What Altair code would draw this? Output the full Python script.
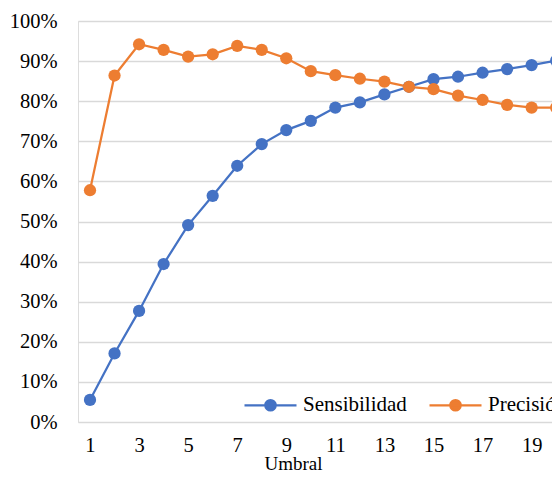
import altair as alt
import pandas as pd

umbral = list(range(1, 21))
sensibilidad = [5.5, 17.1, 27.7, 39.4, 49.1, 56.4, 63.9, 69.3, 72.8, 75.1,
                78.4, 79.7, 81.7, 83.6, 85.5, 86.1, 87.1, 88.0, 89.0, 90.1]
precision = [57.8, 86.4, 94.2, 92.8, 91.1, 91.7, 93.8, 92.8, 90.7, 87.5,
             86.5, 85.6, 84.9, 83.6, 83.0, 81.4, 80.3, 79.1, 78.4, 78.4]
series_names = ["Sensibilidad", "Precisión"]
series_colors = ["#4472C4", "#ED7D31"]
x_ticks = [1, 3, 5, 7, 9, 11, 13, 15, 17, 19]

rows = []
for i, u in enumerate(umbral):
    rows.append({"Umbral": u, "Serie": series_names[0], "Valor": sensibilidad[i] / 100, "ord": 0})
for i, u in enumerate(umbral):
    rows.append({"Umbral": u, "Serie": series_names[1], "Valor": precision[i] / 100, "ord": 1})
df = pd.DataFrame(rows)

FONT = "Liberation Serif"
legend_symbol = ("M-1,0L1,0M-0.2,0A0.2,0.2,0,1,1,0.2,0A0.2,0.2,0,1,1,-0.2,0Z")

x = alt.X("Umbral:Q",
          scale=alt.Scale(domain=[0.511, 19.83], nice=False, zero=False),
          axis=alt.Axis(values=x_ticks, format="d", grid=False, domain=False, ticks=False,
                        labelFont=FONT, labelFontSize=20.5, labelColor="#000000",
                        labelPadding=13, labelFlush=False,
                        title="Umbral", titleFont=FONT, titleFontSize=19,
                        titleFontWeight="normal", titleColor="#000000",
                        titleX=215, titleY=47, titleAlign="center",
                        titleBaseline="alphabetic"))
y = alt.Y("Valor:Q",
          scale=alt.Scale(domain=[0, 1], nice=False),
          axis=alt.Axis(values=[i / 10 for i in range(11)], format=".0%",
                        grid=True, gridColor="#D9D9D9", gridWidth=1.3,
                        domain=False, ticks=False,
                        labelFont=FONT, labelFontSize=20.5, labelColor="#000000",
                        labelPadding=21, title=None))
color = alt.Color("Serie:N",
                  scale=alt.Scale(domain=series_names, range=series_colors),
                  sort=series_names,
                  legend=alt.Legend(orient="none", direction="horizontal",
                                    legendX=165, legendY=356.5, title=None,
                                    symbolType=legend_symbol, symbolSize=2704,
                                    symbolStrokeWidth=2.25,
                                    labelFont=FONT, labelFontSize=21, labelColor="#000000",
                                    labelOffset=5, columnPadding=18, padding=0,
                                    labelLimit=400))

base = alt.Chart(df).encode(x=x, y=y, color=color, order=alt.Order("ord:Q"))
lines = base.mark_line(strokeWidth=2.25, clip=True)
points = base.mark_point(filled=True, size=150, opacity=1, clip=True)

chart = alt.layer(lines, points).properties(
    width=474, height=401,
    autosize=alt.AutoSizeParams(type="none"),
    padding={"left": 70, "top": 13, "right": 0, "bottom": 51},
).configure_view(stroke=None).configure(background="white")

chart.save("out.html", embed_options={"renderer": "svg", "actions": False})
